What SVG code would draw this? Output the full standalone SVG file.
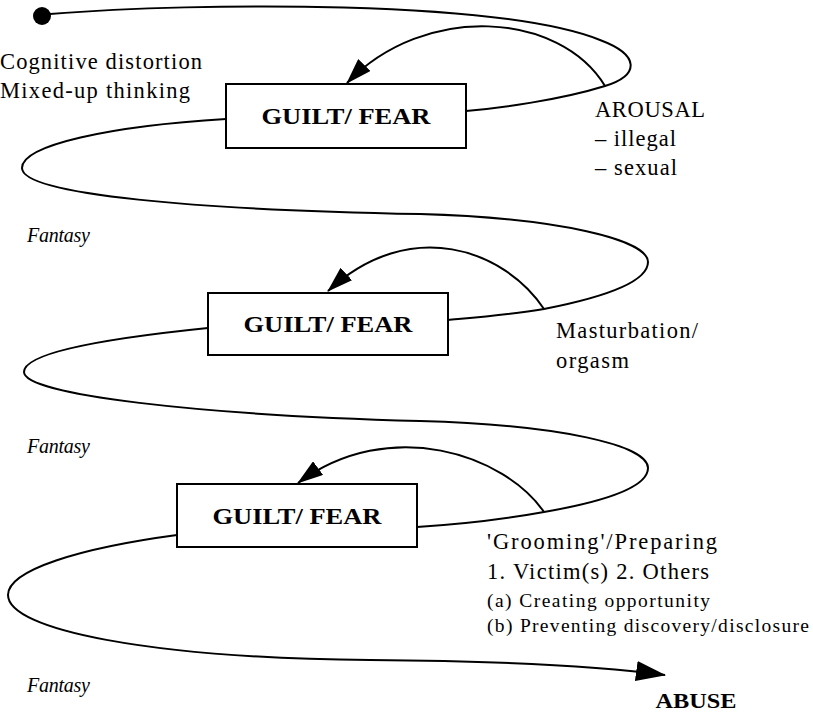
<svg xmlns="http://www.w3.org/2000/svg" width="813" height="712" viewBox="0 0 813 712">
<style>
.ln{fill:none;stroke:#000;stroke-width:2}
.box{fill:#fff;stroke:#000;stroke-width:2}
.b{font-weight:bold;text-anchor:middle}
</style>
<defs>
<marker id="ah" viewBox="0 0 26 17" markerWidth="26" markerHeight="17" refX="25" refY="8.5" orient="auto" markerUnits="userSpaceOnUse">
<path d="M0,0 L26,8.5 L0,17 z" fill="#000"/>
</marker>
<marker id="ah2" viewBox="0 0 30 20" markerWidth="30" markerHeight="20" refX="29" refY="10" orient="auto" markerUnits="userSpaceOnUse">
<path d="M0,0 L30,10 L0,20 z" fill="#000"/>
</marker>
</defs>
<g id="connectors">
<circle cx="42" cy="16" r="9" fill="#000"/>
<path class="ln" d="M50,14 C200,2 500,0 600,40 C640,55 640,75 605,86 C560,100 500,108 466,111"/>
<path class="ln" marker-end="url(#ah)" d="M605,86 C560,12 425,2 347,83"/>
<path class="ln" d="M226,119 C110,126 22,145 22,168 C22,195 200,210 420,214 C560,218 648,240 648,262 C648,285 590,300 544,309 C510,315 470,318 448,320"/>
<path class="ln" marker-end="url(#ah)" d="M544,309 C505,250 410,215 328,291"/>
<path class="ln" d="M208,328 C110,338 24,352 24,372 C24,395 200,415 420,421 C560,425 648,445 648,468 C648,490 590,504 544,512 C500,520 450,525 417,527"/>
<path class="ln" marker-end="url(#ah)" d="M544,512 C505,455 390,415 298,483"/>
<path class="ln" marker-end="url(#ah2)" d="M177,535 C80,548 8,570 8,595 C8,630 150,658 370,660 C500,661 600,666 665,675"/>
</g>
<g font-family="'Liberation Serif', serif" fill="#000">
<g id="node1">
<rect class="box" x="226" y="84" width="240" height="64"/>
<text class="b" x="346" y="124" font-size="23" textLength="169" lengthAdjust="spacingAndGlyphs">GUILT/ FEAR</text>
</g>
<g id="node2">
<rect class="box" x="208" y="293" width="240" height="62"/>
<text class="b" x="328" y="332" font-size="23" textLength="169" lengthAdjust="spacingAndGlyphs">GUILT/ FEAR</text>
</g>
<g id="node3">
<rect class="box" x="177" y="484" width="240" height="63"/>
<text class="b" x="297" y="524" font-size="23" textLength="169" lengthAdjust="spacingAndGlyphs">GUILT/ FEAR</text>
</g>
<g id="labels" font-size="22.5">
<text x="0" y="69" textLength="202" lengthAdjust="spacing">Cognitive distortion</text>
<text x="0" y="98" textLength="190" lengthAdjust="spacing">Mixed-up thinking</text>
<text x="595" y="117" textLength="110" lengthAdjust="spacing">AROUSAL</text>
<text x="595" y="146" textLength="81" lengthAdjust="spacing">– illegal</text>
<text x="595" y="175" textLength="82" lengthAdjust="spacing">– sexual</text>
<text x="27" y="242" font-size="20" font-style="italic" textLength="63" lengthAdjust="spacing">Fantasy</text>
<text x="556" y="338" textLength="142" lengthAdjust="spacing">Masturbation/</text>
<text x="556" y="368" textLength="73" lengthAdjust="spacing">orgasm</text>
<text x="27" y="453" font-size="20" font-style="italic" textLength="63" lengthAdjust="spacing">Fantasy</text>
<text x="487" y="549" textLength="230" lengthAdjust="spacing">'Grooming'/Preparing</text>
<text x="487" y="579" textLength="222" lengthAdjust="spacing">1. Victim(s) 2. Others</text>
<text x="487" y="607" font-size="19.5" textLength="223" lengthAdjust="spacing">(a) Creating opportunity</text>
<text x="487" y="632" font-size="19.5" textLength="322" lengthAdjust="spacing">(b) Preventing discovery/disclosure</text>
<text x="27" y="692" font-size="20" font-style="italic" textLength="63" lengthAdjust="spacing">Fantasy</text>
<text class="b" x="696" y="708" font-size="21" textLength="81" lengthAdjust="spacingAndGlyphs">ABUSE</text>
</g>
</g>
</svg>
